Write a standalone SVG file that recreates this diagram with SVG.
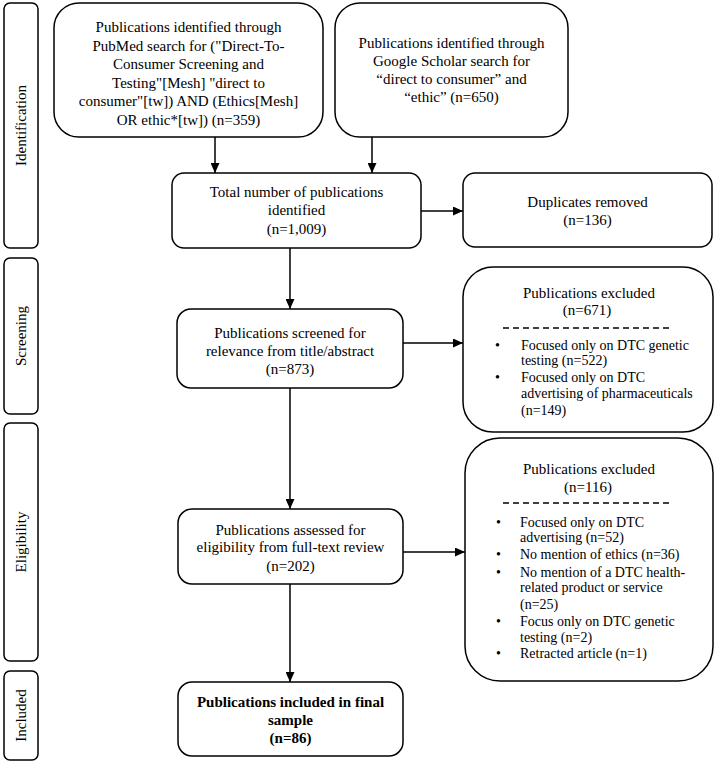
<svg xmlns="http://www.w3.org/2000/svg" width="717" height="764" viewBox="0 0 717 764">
<style>
.box{fill:#fff;stroke:#000;stroke-width:1.5}
.t{font-family:"Liberation Serif","Times New Roman",serif;font-size:15px;fill:#000;text-anchor:middle}
.l{font-family:"Liberation Serif","Times New Roman",serif;font-size:14px;fill:#000}
.b{font-weight:bold}
.con{stroke:#000;stroke-width:1.5;fill:none;marker-end:url(#ah)}
.dash{stroke:#000;stroke-width:1.3;stroke-dasharray:6,4}
</style>
<defs>
<marker id="ah" markerUnits="userSpaceOnUse" markerWidth="10" markerHeight="9" refX="10" refY="4.5" orient="auto">
<path d="M0,0 L10,4.5 L0,9 z" fill="#000"/>
</marker>
</defs>
<rect width="717" height="764" fill="#fff"/>

<g id="stage-identification">
<rect class="box" x="4" y="3" width="34" height="245" rx="6"/>
<text class="t" transform="translate(26,125.5) rotate(-90)">Identification</text>
</g>
<g id="stage-screening">
<rect class="box" x="4" y="258" width="34" height="156" rx="6"/>
<text class="t" transform="translate(26,336) rotate(-90)">Screening</text>
</g>
<g id="stage-eligibility">
<rect class="box" x="4" y="423" width="34" height="238" rx="6"/>
<text class="t" transform="translate(26,542) rotate(-90)">Eligibility</text>
</g>
<g id="stage-included">
<rect class="box" x="4" y="671" width="34" height="89" rx="6"/>
<text class="t" transform="translate(26,715.5) rotate(-90)">Included</text>
</g>

<g id="connectors">
<line class="con" x1="215" y1="137" x2="215" y2="173"/>
<line class="con" x1="372" y1="137" x2="372" y2="173"/>
<line class="con" x1="421" y1="211" x2="463" y2="211"/>
<line class="con" x1="290" y1="248" x2="290" y2="309"/>
<line class="con" x1="403" y1="343" x2="463" y2="343"/>
<line class="con" x1="290" y1="388" x2="290" y2="509"/>
<line class="con" x1="403" y1="552" x2="465" y2="552"/>
<line class="con" x1="290" y1="584" x2="290" y2="682"/>
</g>

<g id="pubmed">
<rect class="box" x="54" y="3" width="269" height="134" rx="25"/>
<text class="t" x="188.5" y="32">Publications identified through</text>
<text class="t" x="188.5" y="51">PubMed search for ("Direct-To-</text>
<text class="t" x="188.5" y="69">Consumer Screening and</text>
<text class="t" x="188.5" y="88">Testing"[Mesh] "direct to</text>
<text class="t" x="188.5" y="106">consumer"[tw]) AND (Ethics[Mesh]</text>
<text class="t" x="188.5" y="125">OR ethic*[tw]) (n=359)</text>
</g>

<g id="scholar">
<rect class="box" x="335" y="3" width="233" height="134" rx="25"/>
<text class="t" x="451.5" y="48">Publications identified through</text>
<text class="t" x="451.5" y="66">Google Scholar search for</text>
<text class="t" x="451.5" y="84">“direct to consumer” and</text>
<text class="t" x="451.5" y="102">“ethic” (n=650)</text>
</g>

<g id="total">
<rect class="box" x="172" y="173" width="249" height="75" rx="12"/>
<text class="t" x="296.5" y="197">Total number of publications</text>
<text class="t" x="296.5" y="215">identified</text>
<text class="t" x="296.5" y="234">(n=1,009)</text>
</g>

<g id="duplicates">
<rect class="box" x="463" y="173" width="249" height="74" rx="12"/>
<text class="t" x="587.5" y="207">Duplicates removed</text>
<text class="t" x="587.5" y="225">(n=136)</text>
</g>

<g id="screened">
<rect class="box" x="177" y="309" width="226" height="79" rx="14"/>
<text class="t" x="290" y="338">Publications screened for</text>
<text class="t" x="290" y="356">relevance from title/abstract</text>
<text class="t" x="290" y="374">(n=873)</text>
</g>

<g id="excluded1">
<rect class="box" x="463" y="267" width="250" height="165" rx="30"/>
<text class="t" x="589" y="298">Publications excluded</text>
<text class="t" x="587" y="315">(n=671)</text>
<line class="dash" x1="503" y1="328" x2="672" y2="328"/>
<text class="l" x="495" y="350">•</text>
<text class="l" x="521" y="350">Focused only on DTC genetic</text>
<text class="l" x="521" y="365">testing (n=522)</text>
<text class="l" x="495" y="382">•</text>
<text class="l" x="521" y="382">Focused only on DTC</text>
<text class="l" x="521" y="398">advertising of pharmaceuticals</text>
<text class="l" x="521" y="415">(n=149)</text>
</g>

<g id="assessed">
<rect class="box" x="178" y="509" width="225" height="75" rx="14"/>
<text class="t" x="290.5" y="535">Publications assessed for</text>
<text class="t" x="290.5" y="552">eligibility from full-text review</text>
<text class="t" x="290.5" y="571">(n=202)</text>
</g>

<g id="excluded2">
<rect class="box" x="465" y="438" width="248" height="243" rx="35"/>
<text class="t" x="589" y="474">Publications excluded</text>
<text class="t" x="588" y="492">(n=116)</text>
<line class="dash" x1="503" y1="503" x2="673" y2="503"/>
<text class="l" x="496" y="527">•</text>
<text class="l" x="520" y="527">Focused only on DTC</text>
<text class="l" x="520" y="542">advertising (n=52)</text>
<text class="l" x="496" y="559">•</text>
<text class="l" x="520" y="559">No mention of ethics (n=36)</text>
<text class="l" x="496" y="577">•</text>
<text class="l" x="520" y="577">No mention of a DTC health-</text>
<text class="l" x="520" y="592">related product or service</text>
<text class="l" x="520" y="609">(n=25)</text>
<text class="l" x="496" y="626">•</text>
<text class="l" x="520" y="626">Focus only on DTC genetic</text>
<text class="l" x="520" y="642">testing (n=2)</text>
<text class="l" x="496" y="658">•</text>
<text class="l" x="520" y="658">Retracted article (n=1)</text>
</g>

<g id="included">
<rect class="box" x="178" y="682" width="225" height="74" rx="14"/>
<text class="t b" x="290.5" y="707">Publications included in final</text>
<text class="t b" x="290.5" y="725">sample</text>
<text class="t b" x="290.5" y="743">(n=86)</text>
</g>
</svg>
